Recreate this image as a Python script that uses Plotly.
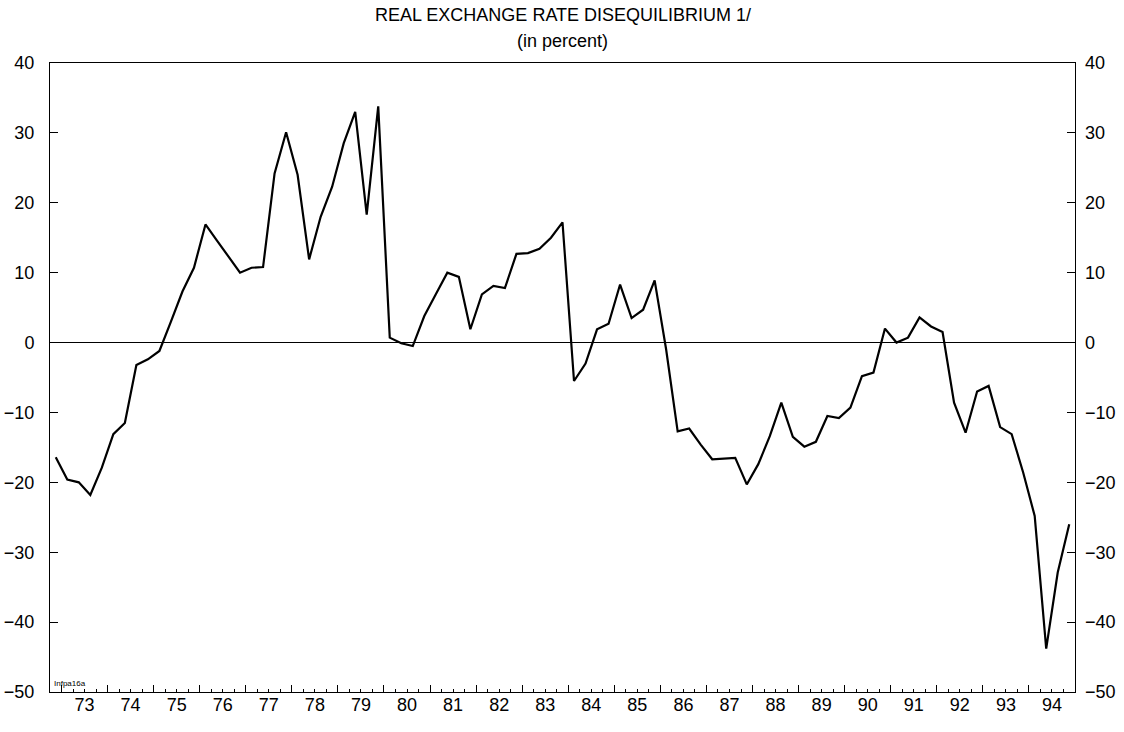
import plotly.graph_objects as go

# Quarterly data, 1972Q4 - 1994Q4
start_year = 1972
start_quarter = 4
values = [
    -16.4, -19.6, -20.0, -21.8, -17.9, -13.1, -11.5, -3.2, -2.4, -1.2,
    3.0, 7.3, 10.7, 16.9, 14.6, 12.3, 10.0, 10.7, 10.8, 24.2,
    30.1, 24.0, 11.9, 18.0, 22.3, 28.5, 33.0, 18.3, 33.8, 0.7,
    -0.1, -0.5, 3.8, 6.9, 10.0, 9.4, 1.9, 6.9, 8.1, 7.8,
    12.7, 12.8, 13.4, 15.0, 17.2, -5.5, -3.0, 1.9, 2.7, 8.3,
    3.5, 4.7, 8.9, -1.0, -12.7, -12.3, -14.6, -16.7, -16.6, -16.5,
    -20.3, -17.4, -13.4, -8.6, -13.5, -14.9, -14.2, -10.5, -10.8, -9.3,
    -4.8, -4.3, 2.0, 0.0, 0.7, 3.6, 2.3, 1.5, -8.6, -12.9,
    -7.0, -6.2, -12.1, -13.1, -18.6, -24.8, -43.8, -32.9, -26.0,
]
year_labels = ["73", "74", "75", "76", "77", "78", "79", "80", "81", "82", "83",
               "84", "85", "86", "87", "88", "89", "90", "91", "92", "93", "94"]
label_years = list(range(1973, 1995))
y_ticks = [-50, -40, -30, -20, -10, 0, 10, 20, 30, 40]
title_line1 = "REAL EXCHANGE RATE DISEQUILIBRIUM 1/"
title_line2 = "(in percent)"
source_tag = "Infpa16a"

# quarter midpoints in decimal years
x = []
for i in range(len(values)):
    q_index = (start_quarter - 1) + i
    yr = start_year + q_index // 4
    q = q_index % 4
    x.append(yr + (q + 0.5) / 4)

x_range = [1972.75, 1995.0]
y_range = [-50, 40]
font = "Liberation Sans"
tick_font = dict(family=font, size=18, color="black")

fig = go.Figure()
fig.add_trace(go.Scatter(x=x, y=values, mode="lines",
                         line=dict(color="black", width=2.2), hoverinfo="skip",
                         showlegend=False))
# invisible copy to activate the secondary (label / right) axes
fig.add_trace(go.Scatter(x=x, y=values, mode="lines", xaxis="x2", yaxis="y2",
                         line=dict(color="rgba(0,0,0,0)", width=0), hoverinfo="skip",
                         showlegend=False))

year_bounds = list(range(1973, 1996))
quarters = [yb + q / 4 for yb in range(1972, 1995) for q in (1, 2, 3)]

fig.update_layout(
    width=1124, height=732,
    margin=dict(l=50, r=49, t=63, b=40, autoexpand=False),
    paper_bgcolor="white", plot_bgcolor="white",
    font=dict(family=font, color="black", size=17),
    xaxis=dict(range=x_range, showgrid=False, zeroline=False, automargin=False,
               showline=True, linecolor="black", linewidth=1, mirror=True,
               tickvals=year_bounds, ticks="inside", ticklen=7, tickcolor="black",
               showticklabels=False,
               minor=dict(tickvals=quarters, ticks="inside", ticklen=3, tickcolor="black")),
    xaxis2=dict(range=x_range, overlaying="x", side="bottom", showgrid=False,
                zeroline=False, showline=False, automargin=False,
                tickvals=[yv + 0.5 for yv in label_years], ticktext=year_labels,
                ticks="", tickfont=tick_font),
    yaxis=dict(range=y_range, showgrid=False, zeroline=True, zerolinecolor="black",
               zerolinewidth=1, showline=True, linecolor="black", linewidth=1,
               mirror=True, tickvals=y_ticks, ticks="inside", ticklen=8,
               tickcolor="black", ticklabelstandoff=11, automargin=False,
               tickfont=tick_font),
    yaxis2=dict(range=y_range, overlaying="y", side="right", showgrid=False,
                zeroline=False, showline=False, tickvals=y_ticks, ticks="inside",
                ticklen=8, tickcolor="black", ticklabelstandoff=9, automargin=False,
                tickfont=tick_font),
    annotations=[
        dict(text=title_line1, x=0.5, y=1, xref="paper", yref="paper",
             xanchor="center", yanchor="middle", yshift=48, showarrow=False,
             font=dict(family=font, size=18, color="black")),
        dict(text=title_line2, x=0.5, y=1, xref="paper", yref="paper",
             xanchor="center", yanchor="middle", yshift=22, showarrow=False,
             font=dict(family=font, size=18, color="black")),
        dict(text=source_tag, x=0, y=0, xref="paper", yref="paper",
             xanchor="left", yanchor="bottom", xshift=2, yshift=2,
             showarrow=False, font=dict(family=font, size=8, color="black")),
    ],
)

fig.write_html("out.html", config={"displayModeBar": False},
               post_script="document.body.style.margin='0';document.body.style.overflow='hidden';")
